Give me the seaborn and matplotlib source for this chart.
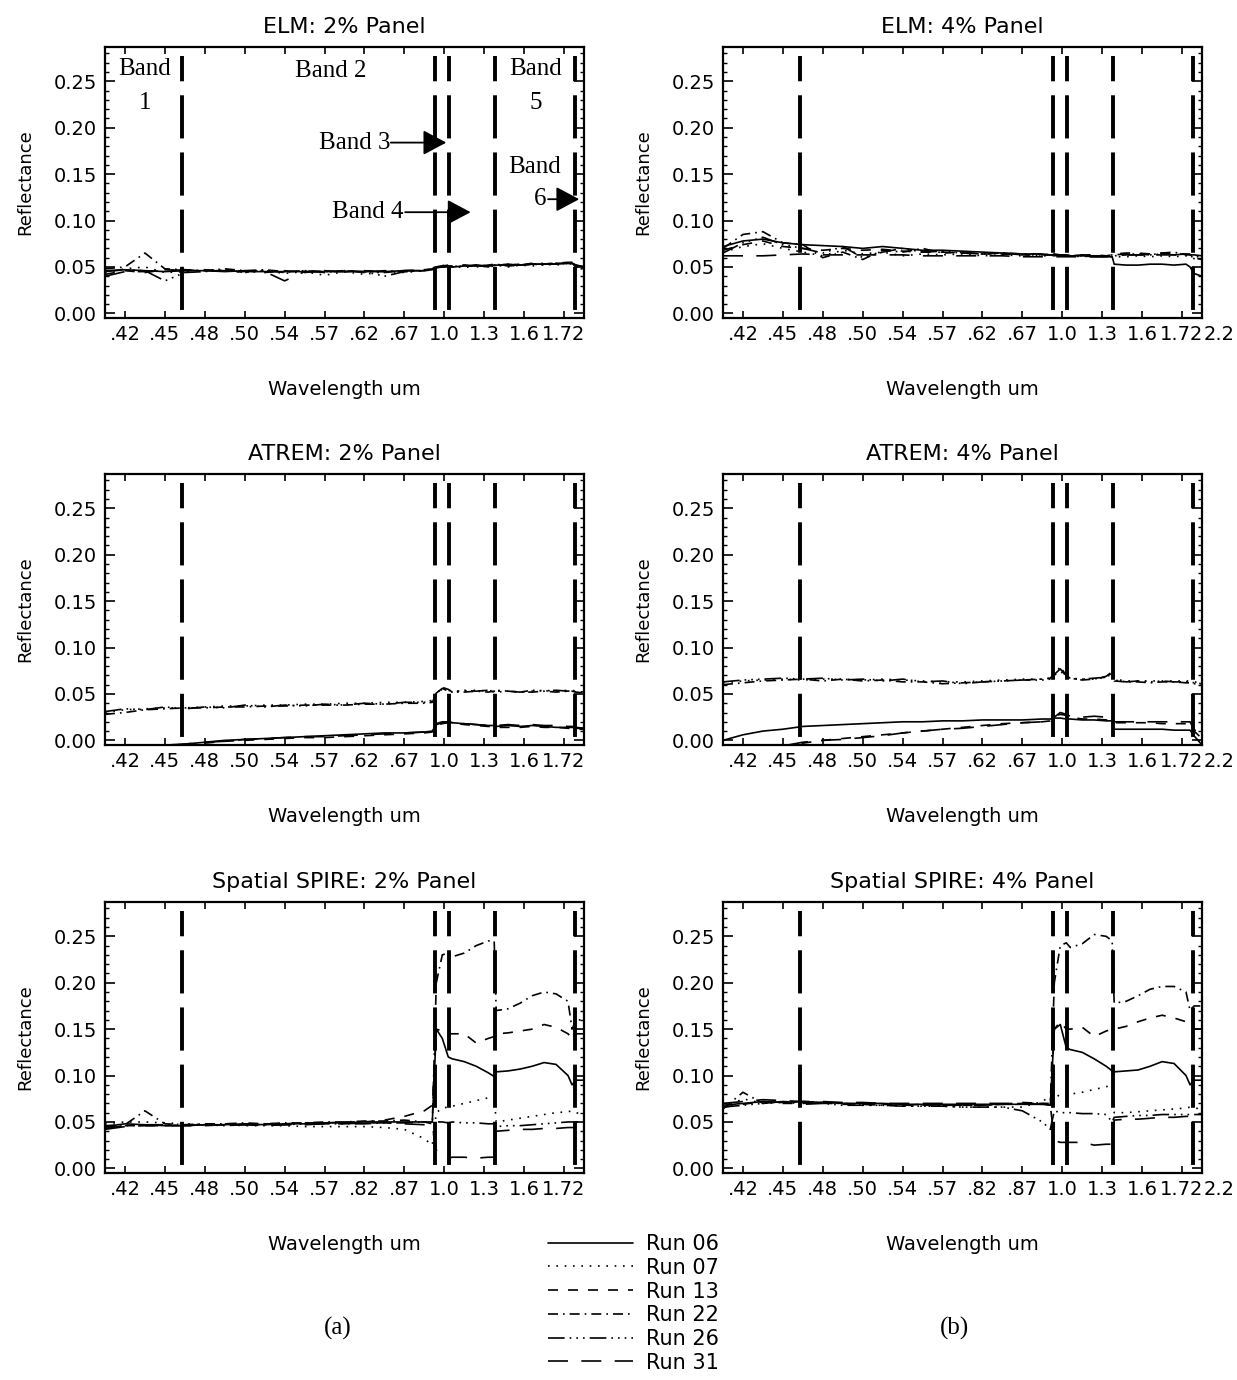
import numpy as np
import pandas as pd
import matplotlib
matplotlib.use("Agg")
import matplotlib.pyplot as plt
from matplotlib.lines import Line2D
import seaborn as sns

sns.set_theme(style="white")
plt.rcParams['font.family'] = ['DejaVu Sans']
plt.rcParams.update({'text.color': 'black', 'axes.labelcolor': 'black',
                     'xtick.color': 'black', 'ytick.color': 'black'})

# ---------------------------------------------------------------------------
# Spectral channel positions (plot units along the wavelength axis)
chan = [0.0, 0.5, 1.0, 1.5, 2.0, 2.5, 3.0, 3.5, 4.0, 4.5, 5.0, 5.5, 6.0, 6.5,
        7.0, 7.5, 8.0, 8.2, 8.3, 8.45, 8.6, 8.7, 9.0, 9.3, 9.6, 9.75, 9.8,
        10.1, 10.4, 10.7, 11.0, 11.3, 11.6, 11.7, 11.8, 12.0]

runs = ['Run 06', 'Run 07', 'Run 13', 'Run 22', 'Run 26', 'Run 31']

# wavelength tick labels (um)
xlabels_vnir = ['.42', '.45', '.48', '.50', '.54', '.57', '.62', '.67',
                '1.0', '1.3', '1.6', '1.72']
xlabels_spire = ['.42', '.45', '.48', '.50', '.54', '.57', '.82', '.87',
                 '1.0', '1.3', '1.6', '1.72']

# sensor band edges
band_edges = [1.94, 8.27, 8.62, 9.77, 11.77]

# ---------------------------------------------------------------- ELM 2%
elm2_06 = [0.046, 0.047, 0.046, 0.045, 0.046, 0.046, 0.046, 0.045, 0.045, 0.045, 0.045, 0.045,
           0.045, 0.045, 0.045, 0.046, 0.046, 0.047, 0.049, 0.050, 0.050, 0.050, 0.051, 0.051,
           0.051, 0.052, 0.052, 0.052, 0.052, 0.053, 0.053, 0.053, 0.054, 0.054, 0.052, 0.050]
elm2_07 = [0.044, 0.048, 0.050, 0.044, 0.045, 0.047, 0.046, 0.044, 0.046, 0.043, 0.045, 0.041,
           0.045, 0.042, 0.045, 0.044, 0.046, 0.047, 0.050, 0.052, 0.050, 0.051, 0.049, 0.052,
           0.050, 0.051, 0.052, 0.050, 0.052, 0.051, 0.053, 0.052, 0.054, 0.054, 0.050, 0.047]
elm2_13 = [0.042, 0.046, 0.044, 0.047, 0.046, 0.047, 0.045, 0.046, 0.044, 0.046, 0.044, 0.046,
           0.045, 0.046, 0.044, 0.046, 0.047, 0.048, 0.050, 0.051, 0.051, 0.050, 0.052, 0.051,
           0.052, 0.053, 0.052, 0.053, 0.052, 0.054, 0.053, 0.054, 0.055, 0.055, 0.053, 0.050]
elm2_22 = [0.048, 0.050, 0.065, 0.048, 0.047, 0.046, 0.048, 0.046, 0.047, 0.045, 0.046, 0.045,
           0.046, 0.044, 0.046, 0.045, 0.046, 0.048, 0.050, 0.050, 0.051, 0.050, 0.052, 0.050,
           0.051, 0.052, 0.053, 0.051, 0.052, 0.053, 0.054, 0.053, 0.054, 0.054, 0.051, 0.048]
elm2_26 = [0.045, 0.047, 0.046, 0.035, 0.044, 0.045, 0.047, 0.044, 0.046, 0.044, 0.046, 0.044,
           0.046, 0.045, 0.040, 0.045, 0.046, 0.048, 0.050, 0.051, 0.052, 0.050, 0.051, 0.052,
           0.050, 0.052, 0.051, 0.053, 0.052, 0.053, 0.052, 0.054, 0.054, 0.053, 0.050, 0.048]
elm2_31 = [0.040, 0.045, 0.045, 0.046, 0.047, 0.046, 0.045, 0.046, 0.045, 0.035, 0.045, 0.045,
           0.045, 0.046, 0.045, 0.046, 0.046, 0.048, 0.050, 0.051, 0.051, 0.051, 0.051, 0.052,
           0.051, 0.052, 0.052, 0.052, 0.053, 0.053, 0.053, 0.054, 0.054, 0.054, 0.052, 0.050]

# ---------------------------------------------------------------- ELM 4%
elm4_06 = [0.072, 0.078, 0.080, 0.076, 0.074, 0.073, 0.072, 0.070, 0.072, 0.070, 0.068, 0.068,
           0.067, 0.066, 0.065, 0.064, 0.064, 0.063, 0.063, 0.063, 0.063, 0.062, 0.062, 0.061,
           0.061, 0.061, 0.053, 0.052, 0.052, 0.053, 0.053, 0.052, 0.053, 0.050, 0.043, 0.040]
elm4_07 = [0.066, 0.072, 0.075, 0.070, 0.066, 0.062, 0.068, 0.064, 0.066, 0.062, 0.064, 0.063,
           0.064, 0.062, 0.063, 0.062, 0.062, 0.062, 0.063, 0.062, 0.062, 0.062, 0.061, 0.062,
           0.061, 0.061, 0.061, 0.061, 0.062, 0.061, 0.062, 0.061, 0.062, 0.061, 0.059, 0.058]
elm4_13 = [0.068, 0.074, 0.078, 0.072, 0.070, 0.068, 0.070, 0.068, 0.069, 0.067, 0.066, 0.066,
           0.065, 0.064, 0.064, 0.063, 0.063, 0.063, 0.063, 0.063, 0.062, 0.062, 0.063, 0.063,
           0.062, 0.063, 0.064, 0.065, 0.065, 0.064, 0.065, 0.064, 0.064, 0.064, 0.060, 0.058]
elm4_22 = [0.070, 0.085, 0.088, 0.076, 0.074, 0.060, 0.066, 0.058, 0.068, 0.066, 0.070, 0.065,
           0.066, 0.064, 0.065, 0.064, 0.064, 0.063, 0.064, 0.063, 0.063, 0.062, 0.063, 0.062,
           0.062, 0.063, 0.063, 0.064, 0.064, 0.063, 0.065, 0.066, 0.063, 0.063, 0.062, 0.060]
elm4_26 = [0.065, 0.076, 0.082, 0.074, 0.070, 0.065, 0.072, 0.060, 0.066, 0.070, 0.066, 0.067,
           0.065, 0.064, 0.065, 0.063, 0.063, 0.063, 0.062, 0.063, 0.063, 0.062, 0.062, 0.062,
           0.062, 0.062, 0.062, 0.063, 0.063, 0.063, 0.064, 0.063, 0.064, 0.062, 0.060, 0.058]
elm4_31 = [0.062, 0.062, 0.062, 0.063, 0.064, 0.063, 0.063, 0.063, 0.063, 0.063, 0.062, 0.062,
           0.062, 0.062, 0.062, 0.061, 0.061, 0.061, 0.061, 0.061, 0.061, 0.061, 0.061, 0.061,
           0.061, 0.062, 0.062, 0.063, 0.063, 0.063, 0.063, 0.063, 0.063, 0.063, 0.063, 0.062]

# -------------------------------------------------------------- ATREM 2%
atrem2_06 = [-0.012, -0.010, -0.008, -0.006, -0.004, -0.002, 0.000, 0.001, 0.002, 0.003, 0.004, 0.005,
             0.006, 0.007, 0.008, 0.008, 0.009, 0.010, 0.017, 0.019, 0.020, 0.019, 0.018, 0.017,
             0.016, 0.016, 0.015, 0.016, 0.015, 0.016, 0.015, 0.014, 0.014, 0.014, 0.013, 0.013]
atrem2_07 = [0.030, 0.033, 0.034, 0.035, 0.035, 0.036, 0.037, 0.037, 0.038, 0.038, 0.039, 0.039,
             0.040, 0.040, 0.041, 0.041, 0.042, 0.043, 0.052, 0.055, 0.054, 0.053, 0.053, 0.054,
             0.053, 0.054, 0.053, 0.053, 0.052, 0.053, 0.054, 0.053, 0.054, 0.054, 0.053, 0.052]
atrem2_13 = [-0.015, -0.012, -0.009, -0.007, -0.005, -0.003, -0.001, 0.000, 0.001, 0.002, 0.003, 0.003,
             0.004, 0.005, 0.006, 0.007, 0.008, 0.009, 0.016, 0.018, 0.019, 0.019, 0.017, 0.016,
             0.015, 0.015, 0.014, 0.014, 0.014, 0.015, 0.014, 0.014, 0.013, 0.013, 0.012, 0.012]
atrem2_22 = [0.028, 0.030, 0.033, 0.034, 0.035, 0.035, 0.036, 0.036, 0.037, 0.037, 0.038, 0.038,
             0.038, 0.039, 0.039, 0.040, 0.040, 0.041, 0.050, 0.057, 0.055, 0.052, 0.052, 0.053,
             0.052, 0.053, 0.052, 0.053, 0.052, 0.052, 0.053, 0.052, 0.053, 0.053, 0.052, 0.051]
atrem2_26 = [0.031, 0.034, 0.033, 0.036, 0.034, 0.036, 0.035, 0.038, 0.036, 0.038, 0.037, 0.039,
             0.038, 0.040, 0.039, 0.041, 0.041, 0.042, 0.051, 0.056, 0.053, 0.052, 0.054, 0.053,
             0.054, 0.052, 0.054, 0.053, 0.052, 0.054, 0.053, 0.054, 0.053, 0.054, 0.052, 0.052]
atrem2_31 = [-0.010, -0.008, -0.006, -0.005, -0.004, -0.002, -0.001, 0.001, 0.002, 0.003, 0.004, 0.004,
             0.005, 0.006, 0.007, 0.008, 0.009, 0.010, 0.018, 0.020, 0.020, 0.019, 0.018, 0.017,
             0.016, 0.016, 0.016, 0.017, 0.016, 0.017, 0.016, 0.016, 0.015, 0.015, 0.014, 0.013]

# -------------------------------------------------------------- ATREM 4%
atrem4_06 = [0.000, 0.006, 0.010, 0.012, 0.015, 0.016, 0.017, 0.018, 0.019, 0.020, 0.020, 0.021,
             0.021, 0.022, 0.022, 0.022, 0.023, 0.023, 0.024, 0.024, 0.023, 0.023, 0.022, 0.022,
             0.021, 0.021, 0.012, 0.012, 0.012, 0.012, 0.012, 0.011, 0.011, 0.011, 0.005, -0.005]
atrem4_07 = [0.062, 0.064, 0.065, 0.066, 0.065, 0.066, 0.066, 0.065, 0.066, 0.065, 0.064, 0.063,
             0.063, 0.064, 0.065, 0.066, 0.066, 0.067, 0.070, 0.075, 0.068, 0.066, 0.066, 0.066,
             0.068, 0.072, 0.066, 0.064, 0.064, 0.064, 0.064, 0.064, 0.064, 0.064, 0.063, 0.062]
atrem4_13 = [-0.020, -0.015, -0.010, -0.006, -0.003, 0.000, 0.002, 0.004, 0.006, 0.008, 0.010, 0.012,
             0.014, 0.016, 0.018, 0.019, 0.020, 0.021, 0.026, 0.028, 0.027, 0.025, 0.023, 0.023,
             0.022, 0.022, 0.019, 0.019, 0.019, 0.019, 0.018, 0.018, 0.018, 0.018, 0.010, 0.002]
atrem4_22 = [0.060, 0.062, 0.064, 0.065, 0.066, 0.064, 0.066, 0.064, 0.065, 0.063, 0.063, 0.061,
             0.062, 0.063, 0.064, 0.065, 0.066, 0.067, 0.072, 0.079, 0.070, 0.067, 0.065, 0.066,
             0.069, 0.074, 0.064, 0.063, 0.063, 0.062, 0.063, 0.063, 0.062, 0.062, 0.061, 0.060]
atrem4_26 = [0.063, 0.065, 0.066, 0.067, 0.066, 0.067, 0.065, 0.066, 0.064, 0.066, 0.063, 0.064,
             0.061, 0.063, 0.064, 0.065, 0.065, 0.066, 0.071, 0.077, 0.069, 0.067, 0.066, 0.067,
             0.068, 0.073, 0.065, 0.063, 0.064, 0.063, 0.064, 0.063, 0.063, 0.063, 0.062, 0.061]
atrem4_31 = [-0.020, -0.015, -0.010, -0.006, -0.002, 0.000, 0.001, 0.003, 0.005, 0.008, 0.010, 0.012,
             0.013, 0.015, 0.017, 0.019, 0.020, 0.021, 0.025, 0.030, 0.028, 0.026, 0.025, 0.026,
             0.025, 0.024, 0.020, 0.020, 0.020, 0.020, 0.020, 0.020, 0.020, 0.020, 0.012, 0.004]

# ------------------------------------------------------- Spatial SPIRE 2%
spire2_06 = [0.045, 0.048, 0.047, 0.046, 0.046, 0.047, 0.047, 0.048, 0.047, 0.048, 0.048, 0.049,
             0.049, 0.050, 0.050, 0.050, 0.050, 0.050, 0.150, 0.140, 0.120, 0.118, 0.115, 0.110,
             0.103, 0.099, 0.104, 0.105, 0.107, 0.110, 0.114, 0.112, 0.100, 0.090, 0.095, 0.095]
spire2_07 = [0.048, 0.050, 0.050, 0.049, 0.048, 0.047, 0.047, 0.046, 0.046, 0.046, 0.045, 0.045,
             0.045, 0.045, 0.044, 0.042, 0.032, 0.025, 0.060, 0.065, 0.066, 0.067, 0.070, 0.073,
             0.076, 0.078, 0.050, 0.052, 0.054, 0.056, 0.058, 0.060, 0.061, 0.062, 0.060, 0.058]
spire2_13 = [0.044, 0.046, 0.046, 0.046, 0.047, 0.047, 0.048, 0.047, 0.048, 0.048, 0.049, 0.049,
             0.050, 0.050, 0.052, 0.056, 0.062, 0.068, 0.150, 0.148, 0.145, 0.145, 0.145, 0.135,
             0.140, 0.142, 0.145, 0.146, 0.148, 0.150, 0.155, 0.152, 0.145, 0.140, 0.145, 0.145]
spire2_22 = [0.046, 0.047, 0.062, 0.048, 0.047, 0.048, 0.048, 0.049, 0.048, 0.049, 0.049, 0.050,
             0.050, 0.051, 0.051, 0.052, 0.050, 0.048, 0.200, 0.230, 0.232, 0.228, 0.232, 0.240,
             0.245, 0.245, 0.170, 0.172, 0.178, 0.186, 0.190, 0.188, 0.180, 0.150, 0.160, 0.160]
spire2_26 = [0.043, 0.046, 0.047, 0.047, 0.046, 0.047, 0.046, 0.047, 0.047, 0.047, 0.048, 0.048,
             0.048, 0.048, 0.049, 0.049, 0.050, 0.050, 0.050, 0.050, 0.049, 0.050, 0.049, 0.049,
             0.048, 0.048, 0.045, 0.046, 0.046, 0.047, 0.048, 0.049, 0.050, 0.050, 0.050, 0.050]
spire2_31 = [0.042, 0.045, 0.046, 0.046, 0.046, 0.046, 0.047, 0.047, 0.046, 0.047, 0.047, 0.048,
             0.048, 0.049, 0.049, 0.048, 0.047, 0.046, 0.020, 0.012, 0.011, 0.012, 0.012, 0.011,
             0.012, 0.012, 0.040, 0.041, 0.042, 0.042, 0.043, 0.043, 0.044, 0.044, 0.044, 0.044]

# ------------------------------------------------------- Spatial SPIRE 4%
spire4_06 = [0.068, 0.070, 0.072, 0.071, 0.072, 0.071, 0.070, 0.070, 0.070, 0.069, 0.069, 0.069,
             0.069, 0.069, 0.069, 0.069, 0.069, 0.068, 0.150, 0.155, 0.130, 0.128, 0.125, 0.118,
             0.110, 0.105, 0.104, 0.105, 0.106, 0.110, 0.115, 0.113, 0.100, 0.090, 0.095, 0.095]
spire4_07 = [0.065, 0.075, 0.070, 0.071, 0.072, 0.071, 0.070, 0.068, 0.068, 0.067, 0.067, 0.067,
             0.066, 0.066, 0.066, 0.066, 0.072, 0.078, 0.075, 0.080, 0.080, 0.080, 0.082, 0.085,
             0.088, 0.090, 0.060, 0.060, 0.061, 0.062, 0.063, 0.064, 0.065, 0.066, 0.065, 0.064]
spire4_13 = [0.066, 0.069, 0.072, 0.070, 0.070, 0.071, 0.069, 0.069, 0.069, 0.068, 0.068, 0.068,
             0.068, 0.068, 0.069, 0.071, 0.070, 0.068, 0.150, 0.158, 0.150, 0.150, 0.152, 0.142,
             0.148, 0.150, 0.150, 0.153, 0.158, 0.162, 0.165, 0.162, 0.158, 0.155, 0.150, 0.150]
spire4_22 = [0.064, 0.082, 0.070, 0.072, 0.071, 0.070, 0.070, 0.069, 0.068, 0.068, 0.069, 0.068,
             0.068, 0.068, 0.069, 0.070, 0.070, 0.070, 0.200, 0.240, 0.243, 0.238, 0.242, 0.252,
             0.250, 0.245, 0.178, 0.180, 0.186, 0.193, 0.196, 0.196, 0.190, 0.170, 0.175, 0.175]
spire4_26 = [0.066, 0.068, 0.070, 0.072, 0.069, 0.070, 0.068, 0.068, 0.068, 0.067, 0.067, 0.067,
             0.066, 0.066, 0.066, 0.062, 0.050, 0.042, 0.062, 0.060, 0.060, 0.060, 0.059, 0.059,
             0.058, 0.050, 0.055, 0.056, 0.057, 0.057, 0.058, 0.058, 0.058, 0.058, 0.058, 0.058]
spire4_31 = [0.070, 0.072, 0.074, 0.073, 0.072, 0.072, 0.071, 0.071, 0.070, 0.070, 0.070, 0.070,
             0.070, 0.070, 0.070, 0.070, 0.069, 0.068, 0.030, 0.028, 0.028, 0.028, 0.028, 0.025,
             0.026, 0.026, 0.052, 0.053, 0.053, 0.054, 0.055, 0.055, 0.056, 0.056, 0.056, 0.056]

# ---------------------------------------------------------------------------
run_dashes = {'Run 06': '', 'Run 07': (1, 4), 'Run 13': (6, 6),
              'Run 22': (6, 3, 1, 3), 'Run 26': (10, 3, 1, 3, 1, 3, 1, 3),
              'Run 31': (12, 8)}

panels = [
    ('ELM: 2% Panel', [elm2_06, elm2_07, elm2_13, elm2_22, elm2_26, elm2_31], xlabels_vnir, 0, 0),
    ('ELM: 4% Panel', [elm4_06, elm4_07, elm4_13, elm4_22, elm4_26, elm4_31], xlabels_vnir, 1, 0),
    ('ATREM: 2% Panel', [atrem2_06, atrem2_07, atrem2_13, atrem2_22, atrem2_26, atrem2_31], xlabels_vnir, 0, 1),
    ('ATREM: 4% Panel', [atrem4_06, atrem4_07, atrem4_13, atrem4_22, atrem4_26, atrem4_31], xlabels_vnir, 1, 1),
    ('Spatial SPIRE: 2% Panel', [spire2_06, spire2_07, spire2_13, spire2_22, spire2_26, spire2_31], xlabels_spire, 0, 2),
    ('Spatial SPIRE: 4% Panel', [spire4_06, spire4_07, spire4_13, spire4_22, spire4_26, spire4_31], xlabels_spire, 1, 2),
]

W, H = 1237, 1380
fig = plt.figure(figsize=(W / 100, H / 100), dpi=100)
fig.patch.set_facecolor('white')

col_x = [105 / W, 723 / W]
ax_w = 479 / W
row_y = [1 - 318 / H, 1 - 745 / H, 1 - 1173 / H]
ax_h = 271 / H

YMIN, YMAX = -0.005, 0.287
BAND_TOP = 0.277

tick_font = 14
serif = ['Liberation Serif', 'DejaVu Serif']

for title, series, xl, col, row in panels:
    ax = fig.add_axes([col_x[col], row_y[row], ax_w, ax_h])
    df = pd.DataFrame({
        'chan': np.tile(chan, len(runs)),
        'refl': np.concatenate(series),
        'run': np.repeat(runs, len(chan)),
    })
    sns.lineplot(data=df, x='chan', y='refl', style='run', dashes=run_dashes,
                 color='black', lw=1.2, estimator=None, sort=False,
                 legend=False, ax=ax)

    # band boundaries
    for xb in band_edges:
        ax.plot([xb, xb], [BAND_TOP, YMIN], color='black', lw=2.8,
                linestyle=(4.6, (11.1, 3.6)), solid_capstyle='butt')

    ax.set_xlim(0, 12)
    ax.set_ylim(YMIN, YMAX)
    ax.set_xticks(np.arange(12) + 0.5)
    ax.set_xticklabels(xl)
    ax.set_yticks([0.0, 0.05, 0.10, 0.15, 0.20, 0.25])
    ax.set_yticklabels(['0.00', '0.05', '0.10', '0.15', '0.20', '0.25'])
    ax.set_yticks(np.arange(0, 0.2801, 0.01), minor=True)
    ax.tick_params(axis='x', direction='in', length=5, width=1.2, pad=5,
                   labelsize=tick_font, top=True, bottom=True)
    ax.tick_params(axis='y', which='major', direction='in', length=7, width=1.2,
                   pad=6, labelsize=tick_font, left=True, right=True)
    ax.tick_params(axis='y', which='minor', direction='in', length=3, width=1.0,
                   left=True, right=True)
    for sp in ax.spines.values():
        sp.set_visible(True)
        sp.set_linewidth(1.6)
        sp.set_color('black')

    ax.set_title(title, fontsize=16, pad=10)
    ax.set_xlabel('Wavelength um', fontsize=14, labelpad=26)
    ax.set_ylabel('Reflectance', fontsize=13, labelpad=14)

    if col == 1:
        ax.annotate('2.2', xy=(12.42, 0), xycoords=('data', 'axes fraction'),
                    xytext=(0, -5), textcoords='offset points', ha='center',
                    va='top', fontsize=tick_font, annotation_clip=False)

    if row == 0 and col == 0:
        # band labels
        ax.text(1.0, 0.263, 'Band', family=serif, fontsize=18, ha='center', va='center')
        ax.text(1.0, 0.227, '1', family=serif, fontsize=18, ha='center', va='center')
        ax.text(5.65, 0.261, 'Band 2', family=serif, fontsize=18, ha='center', va='center')
        ax.text(10.78, 0.263, 'Band', family=serif, fontsize=18, ha='center', va='center')
        ax.text(10.8, 0.227, '5', family=serif, fontsize=18, ha='center', va='center')
        ax.text(10.75, 0.158, 'Band', family=serif, fontsize=18, ha='center', va='center')
        ax.text(7.14, 0.184, 'Band 3', family=serif, fontsize=18, ha='right', va='center')
        ax.text(7.48, 0.109, 'Band 4', family=serif, fontsize=18, ha='right', va='center')
        ax.text(11.05, 0.123, '6', family=serif, fontsize=18, ha='right', va='center')
        arrow = dict(arrowstyle='-|>,head_length=0.6,head_width=0.32',
                     mutation_scale=24, lw=1.3, color='black',
                     shrinkA=0, shrinkB=0)
        ax.annotate('', xy=(8.55, 0.184), xytext=(7.16, 0.184), arrowprops=arrow)
        ax.annotate('', xy=(9.16, 0.109), xytext=(7.52, 0.109), arrowprops=arrow)
        ax.annotate('', xy=(11.88, 0.123), xytext=(11.1, 0.123), arrowprops=arrow)

# legend of runs
handles = [Line2D([], [], color='black', lw=1.2,
                  linestyle='-' if run_dashes[r] == '' else (0, run_dashes[r]))
           for r in runs]
fig.legend(handles, runs, loc='upper left', bbox_to_anchor=(548 / W, 1 - 1234 / H),
           frameon=False, fontsize=15, handlelength=4.1, handletextpad=0.6,
           labelspacing=0.18, borderpad=0, borderaxespad=0)

fig.text(338 / W, 1 - 1328 / H, '(a)', family=serif, fontsize=18, ha='center', va='center')
fig.text(955 / W, 1 - 1328 / H, '(b)', family=serif, fontsize=18, ha='center', va='center')

fig.savefig('out.png', dpi=100, facecolor='white')
